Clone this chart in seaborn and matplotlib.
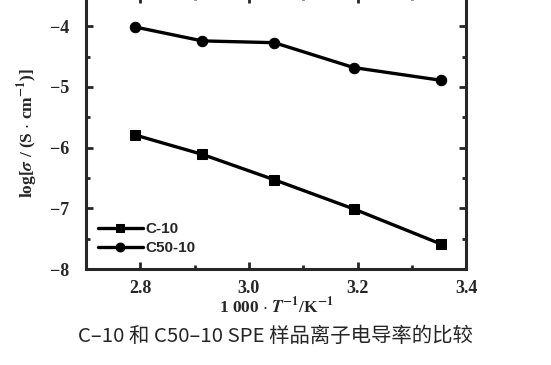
import numpy as np
import pandas as pd
import seaborn as sns
import matplotlib.pyplot as plt
from matplotlib.ticker import MultipleLocator

inv_T = [2.79, 2.914, 3.047, 3.193, 3.354]
c10 = [-5.79, -6.11, -6.53, -7.01, -7.59]
c50_10 = [-4.01, -4.24, -4.27, -4.68, -4.89]
series = ['C-10', 'C50-10']

df = pd.DataFrame({
    'x': inv_T * 2,
    'y': c10 + c50_10,
    'sample': ['C-10'] * 5 + ['C50-10'] * 5,
})

sns.set_style("ticks")
plt.rcParams['font.family'] = ['Liberation Serif', 'DejaVu Serif']
plt.rcParams['mathtext.fontset'] = 'stix'

fig = plt.figure(figsize=(5.51, 3.65), dpi=100)
ax = fig.add_axes([0.156, 0.263, 0.69, 0.748])

sns.lineplot(data=df, x='x', y='y', hue='sample', style='sample',
             markers={'C-10': 's', 'C50-10': 'o'}, dashes=False,
             palette={'C-10': 'black', 'C50-10': 'black'},
             linewidth=2.4, markersize=7.5, markeredgecolor='black',
             ax=ax)

ax.set_xlim(2.7, 3.4)
ax.set_ylim(-8, -3.5)
ax.xaxis.set_minor_locator(MultipleLocator(0.1))
ax.yaxis.set_minor_locator(MultipleLocator(0.5))
ax.tick_params(which='both', direction='in', top=True, right=True,
               width=2, labelsize=13)
ax.tick_params(which='major', length=5)
ax.tick_params(which='minor', length=3)
ax.tick_params(axis='x', which='major', pad=8)
ax.tick_params(axis='y', which='major', pad=12)
for s in ax.spines.values():
    s.set_linewidth(2.2)
ax.set_xticks([2.8, 3.0, 3.2, 3.4])
ax.set_xticklabels(['2.8', '3.0', '3.2', '3.4'], fontweight='bold')
ax.set_yticks([-8, -7, -6, -5, -4])
ax.set_yticklabels(['\u22128', '\u22127', '\u22126', '\u22125', '\u22124'],
                   fontweight='bold')

ax.set_xlabel(r'1 000 $\cdot$ $\boldsymbol{T}^{\mathbf{-1}}$/K$^{\mathbf{-1}}$',
              fontsize=12.5, fontweight='bold', labelpad=-1)
ax.set_ylabel(r'log[$\boldsymbol{\sigma}$ / (S $\cdot$ cm$^{\mathbf{-1}}$)]',
              fontsize=12.5, fontweight='bold', labelpad=7)

leg = ax.legend(loc='lower left', bbox_to_anchor=(0.01, 0.02), frameon=False,
                handlelength=3.2, handletextpad=0.2, labelspacing=0.35,
                borderaxespad=0.2, markerscale=0.85)
for t in leg.get_texts():
    t.set_fontfamily(['Liberation Sans', 'DejaVu Sans'])
    t.set_fontweight('bold')
    t.set_fontsize(11)

fig.text(0.5, 0.078, 'C\u201310 和 C50\u201310 SPE 样品离子电导率的比较',
         ha='center', va='center', fontsize=14.7,
         family=['Noto Sans CJK SC', 'DejaVu Sans'])

fig.savefig('out.png', dpi=100)
